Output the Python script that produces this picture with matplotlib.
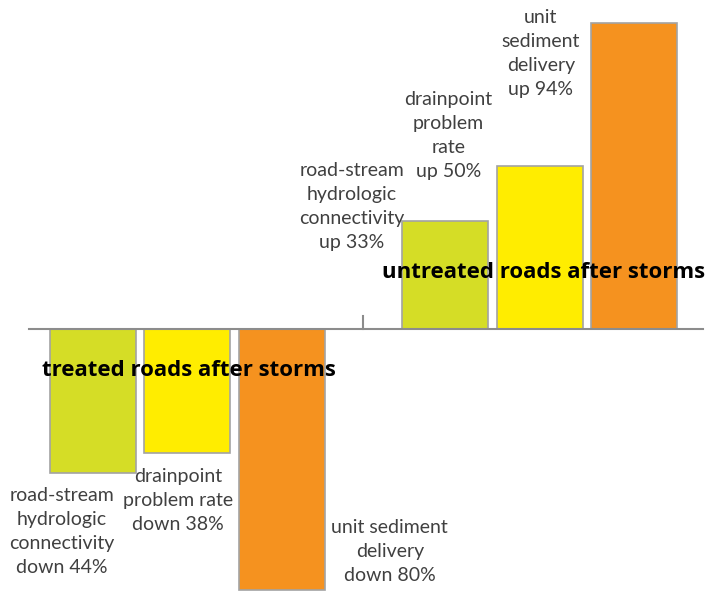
import matplotlib
matplotlib.use("Agg")
import matplotlib.pyplot as plt
import numpy as np

# values (percent change)
treated_vals = [-44, -38, -80]
untreated_vals = [33, 50, 94]
bar_colors = ["#d5dd26", "#ffed00", "#f5921f"]

treated_labels = ["road-stream\nhydrologic\nconnectivity\ndown 44%",
                  "drainpoint\nproblem rate\ndown 38%",
                  "unit sediment\ndelivery\ndown 80%"]
untreated_labels = ["road-stream\nhydrologic\nconnectivity\nup 33%",
                    "drainpoint\nproblem\nrate\nup 50%",
                    "unit\nsediment\ndelivery\nup 94%"]
group_titles = ["treated roads after storms", "untreated roads after storms"]

plt.rcParams['font.family'] = ['Lato', 'DejaVu Sans']

fig = plt.figure(figsize=(7.23, 5.91), dpi=100)
ax = fig.add_axes([0, 0, 1, 1])

x_treated = np.arange(3)
x_untreated = np.arange(3) + 3.73

ax.bar(x_treated, treated_vals, width=0.91, color=bar_colors,
       edgecolor="#a3a3a3", linewidth=1.2, zorder=2)
ax.bar(x_untreated, untreated_vals, width=0.91, color=bar_colors,
       edgecolor="#a3a3a3", linewidth=1.2, zorder=2)

# baseline and the small divider tick
ax.plot([-0.68, 6.46], [0, 0], color="#8c8c8c", lw=1.5, zorder=3)
ax.plot([2.86, 2.86], [0, 4], color="#8c8c8c", lw=1.5, zorder=3)

txt_kw = dict(ha="center", va="center", fontsize=14, color="#404040",
              linespacing=1.5, fontweight="normal")
# label positions relative to each bar
t_off = [(-0.33, -62), (-0.10, -52.6), (1.14, -68.2)]
for xi, lab, (dx, yy) in zip(x_treated, treated_labels, t_off):
    ax.text(xi + dx, yy, lab, **txt_kw)
u_off = [(-0.99, 37.6), (-0.97, 59.3), (-0.99, 84.4)]
for xi, lab, (dx, yy) in zip(x_untreated, untreated_labels, u_off):
    ax.text(xi + dx, yy, lab, **txt_kw)

title_kw = dict(ha="center", va="center", fontsize=16, fontweight="bold",
                color="black", zorder=4, family=["Open Sans", "DejaVu Sans"])
ax.text(1.02, -12.8, group_titles[0], **title_kw)
ax.text(4.77, 17.4, group_titles[1], **title_kw)

ax.set_xlim(-0.984, 6.667)
ax.set_ylim(-80.3, 100.9)
ax.axis("off")

fig.savefig("out.png", dpi=100)
